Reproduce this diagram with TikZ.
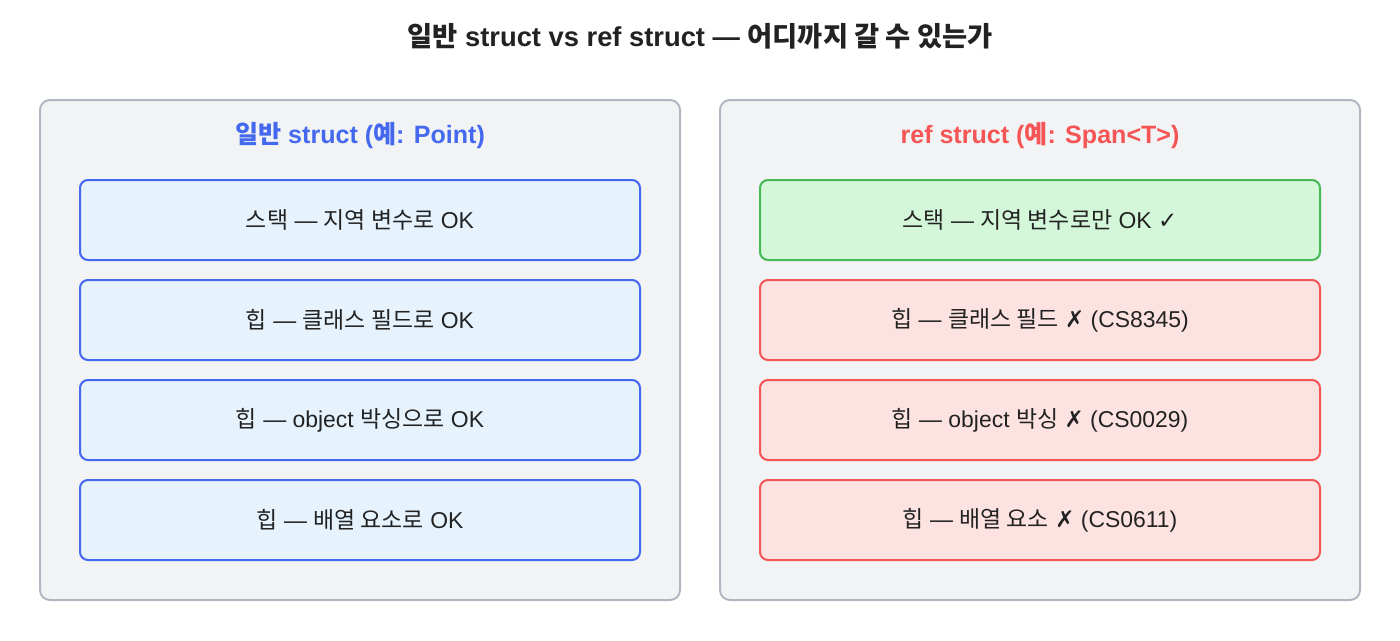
\documentclass[tikz,border=0pt]{standalone}
\usepackage{fontspec}
\setmainfont{Liberation Sans}
\newfontfamily\kr{Noto Sans CJK KR}
\newfontfamily\sym{DejaVu Sans}
\definecolor{panelfill}{HTML}{F2F3F5}
\definecolor{panelline}{HTML}{B0B7C0}
\definecolor{bluel}{HTML}{4469EE}
\definecolor{bluef}{HTML}{E6F3FD}
\definecolor{greenl}{HTML}{44BB55}
\definecolor{greenf}{HTML}{D4F7D9}
\definecolor{redl}{HTML}{F55555}
\definecolor{redf}{HTML}{FDE2E2}
\definecolor{txt}{HTML}{222222}
\begin{document}
\begin{tikzpicture}[x=0.75pt,y=-0.75pt,
  panel/.style={draw=panelline,fill=panelfill,line width=1.5pt,rounded corners=7.5pt},
  item/.style={line width=1.5pt,rounded corners=6pt,minimum width=420pt,minimum height=60pt,inner sep=0pt,text=txt,font=\fontsize{17.2}{20}\selectfont},
  bitem/.style={item,draw=bluel,fill=bluef},
  gitem/.style={item,draw=greenl,fill=greenf},
  ritem/.style={item,draw=redl,fill=redf},
  ptitle/.style={font=\bfseries\fontsize{18.8}{22}\selectfont}]
\useasboundingbox (0,0) rectangle (1400,640);
\node[font=\bfseries\fontsize{20.5}{24}\selectfont,text=txt] (title) at (700,36) {{\kr\bfseries 일반} struct vs ref struct — {\kr\bfseries 어디까지 갈 수 있는가}};
\draw[panel] (40,100) rectangle (680,600);
\draw[panel] (720,100) rectangle (1360,600);
\node[ptitle,text=bluel] (lt) at (360,136) {{\kr\bfseries 일반} struct ({\kr\bfseries 예}: Point)};
\node[ptitle,text=redl] (rt) at (1040,136) {ref struct ({\kr\bfseries 예}: Span<T>)};
\node[bitem] (l1) at (360,220) {{\kr 스택} — {\kr 지역 변수로} OK};
\node[bitem] (l2) at (360,320) {{\kr 힙} — {\kr 클래스 필드로} OK};
\node[bitem] (l3) at (360,420) {{\kr 힙} — object {\kr 박싱으로} OK};
\node[bitem] (l4) at (360,520) {{\kr 힙} — {\kr 배열 요소로} OK};
\node[gitem] (r1) at (1040,220) {{\kr 스택} — {\kr 지역 변수로만} OK {\sym ✓}};
\node[ritem] (r2) at (1040,320) {{\kr 힙} — {\kr 클래스 필드} {\sym ✗} (CS8345)};
\node[ritem] (r3) at (1040,420) {{\kr 힙} — object {\kr 박싱} {\sym ✗} (CS0029)};
\node[ritem] (r4) at (1040,520) {{\kr 힙} — {\kr 배열 요소} {\sym ✗} (CS0611)};
\end{tikzpicture}
\end{document}
